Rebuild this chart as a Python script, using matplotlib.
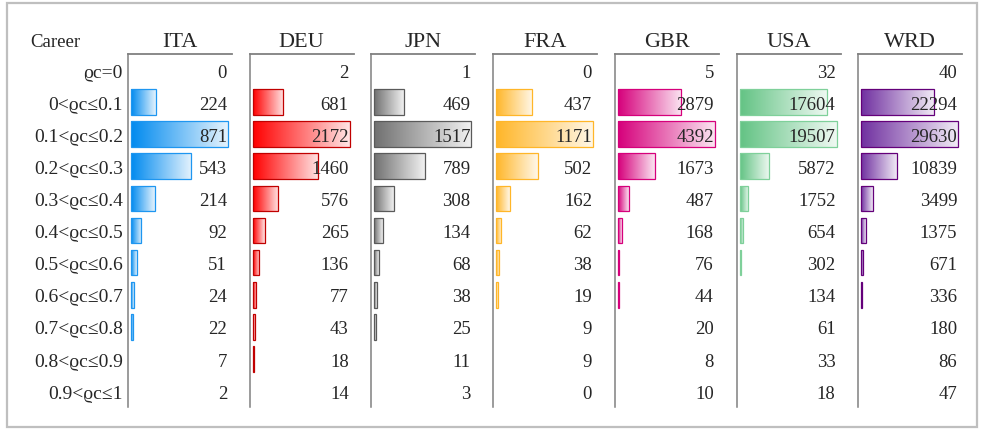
import numpy as np
import matplotlib
matplotlib.use("Agg")
import matplotlib.pyplot as plt
from matplotlib.patches import Rectangle
from matplotlib.colors import to_rgb
import matplotlib.transforms as mtransforms

plt.rcParams['font.family'] = ['Liberation Serif', 'DejaVu Serif']

# ---------------- data ----------------
row_labels = ["ϱc=0", "0<ϱc≤0.1", "0.1<ϱc≤0.2", "0.2<ϱc≤0.3", "0.3<ϱc≤0.4",
              "0.4<ϱc≤0.5", "0.5<ϱc≤0.6", "0.6<ϱc≤0.7", "0.7<ϱc≤0.8",
              "0.8<ϱc≤0.9", "0.9<ϱc≤1"]
countries = ["ITA", "DEU", "JPN", "FRA", "GBR", "USA", "WRD"]
ita = [0, 224, 871, 543, 214, 92, 51, 24, 22, 7, 2]
deu = [2, 681, 2172, 1460, 576, 265, 136, 77, 43, 18, 14]
jpn = [1, 469, 1517, 789, 308, 134, 68, 38, 25, 11, 3]
fra = [0, 437, 1171, 502, 162, 62, 38, 19, 9, 9, 0]
gbr = [5, 2879, 4392, 1673, 487, 168, 76, 44, 20, 8, 10]
usa = [32, 17604, 19507, 5872, 1752, 654, 302, 134, 61, 33, 18]
wrd = [40, 22294, 29630, 10839, 3499, 1375, 671, 336, 180, 86, 47]
values = [ita, deu, jpn, fra, gbr, usa, wrd]

fill_colors = ["#008AEF", "#FF0000", "#707070", "#FFB628", "#D6007B", "#63C384", "#7030A0"]
edge_colors = ["#1E96F0", "#C00000", "#5A5A5A", "#FFB628", "#D6007B", "#7FD09A", "#64007A"]

# ---------------- layout ----------------
W, H = 981, 433
fig = plt.figure(figsize=(W / 100, H / 100), dpi=100)

col_w = 104
col_step = 121.7
first_left = 128
top_px, bot_px = 54, 407
txt_color = "#262626"
line_color = "#808080"
min_frac = 0.0082

n = len(row_labels)
axes = []
for k, (name, vals) in enumerate(zip(countries, values)):
    L = first_left + k * col_step
    ax = fig.add_axes([L / W, 1 - bot_px / H, col_w / W, (bot_px - top_px) / H])
    axes.append(ax)
    vmax = max(vals)
    s = vmax / 97.0
    base = np.array(to_rgb(fill_colors[k]))
    grad = np.linspace(0, 1, 256)[:, None]
    cols = base[None, :] * (1 - 0.9 * grad) + np.ones(3)[None, :] * 0.9 * grad
    grad_img = cols[None, :, :]
    for i, v in enumerate(vals):
        if v > 0 and v / vmax >= min_frac:
            rect = Rectangle((0, i - 0.4), v, 0.8, facecolor="none",
                             edgecolor=edge_colors[k], lw=0.9, zorder=3)
            ax.add_patch(rect)
            im = ax.imshow(grad_img, extent=(0, v, i + 0.4, i - 0.4),
                           aspect="auto", zorder=2, interpolation="bilinear")
            im.set_clip_path(rect)
        trans = mtransforms.blended_transform_factory(ax.transAxes, ax.transData)
        ax.text(0.952, i + 0.1, str(v), transform=trans, ha="right", va="center",
                fontsize=13.5, color=txt_color, zorder=5)
    ax.set_xlim(-3 * s, 101 * s)
    ax.set_ylim(n - 0.5, -0.5)
    ax.set_xticks([])
    ax.set_yticks([])
    for sp in ["right", "bottom"]:
        ax.spines[sp].set_visible(False)
    ax.spines["top"].set_color(line_color)
    ax.spines["top"].set_linewidth(1.3)
    ax.spines["left"].set_color(line_color)
    ax.spines["left"].set_linewidth(1.1)
    ax.patch.set_alpha(0)
    ax.annotate(name, xy=(0.5, 1), xycoords="axes fraction", xytext=(0, 5),
                textcoords="offset points", ha="center", va="baseline",
                fontsize=16, color=txt_color)

# row labels
ltrans = mtransforms.blended_transform_factory(fig.transFigure, axes[0].transData)
for i, lab in enumerate(row_labels):
    fig.text(123 / W, i + 0.1, lab, transform=ltrans, ha="right", va="center",
             fontsize=14, color=txt_color)

fig.text(30 / W, 1 - 47 / H, "Career", ha="left", va="baseline", fontsize=13.5,
         color=txt_color)

# outer border
fig.add_artist(Rectangle((7 / W, 1 - 427 / H), (977 - 7) / W, (427 - 3) / H,
                         transform=fig.transFigure, fill=False, ec="#BFBFBF", lw=1.6))

fig.savefig("out.png", dpi=100)
